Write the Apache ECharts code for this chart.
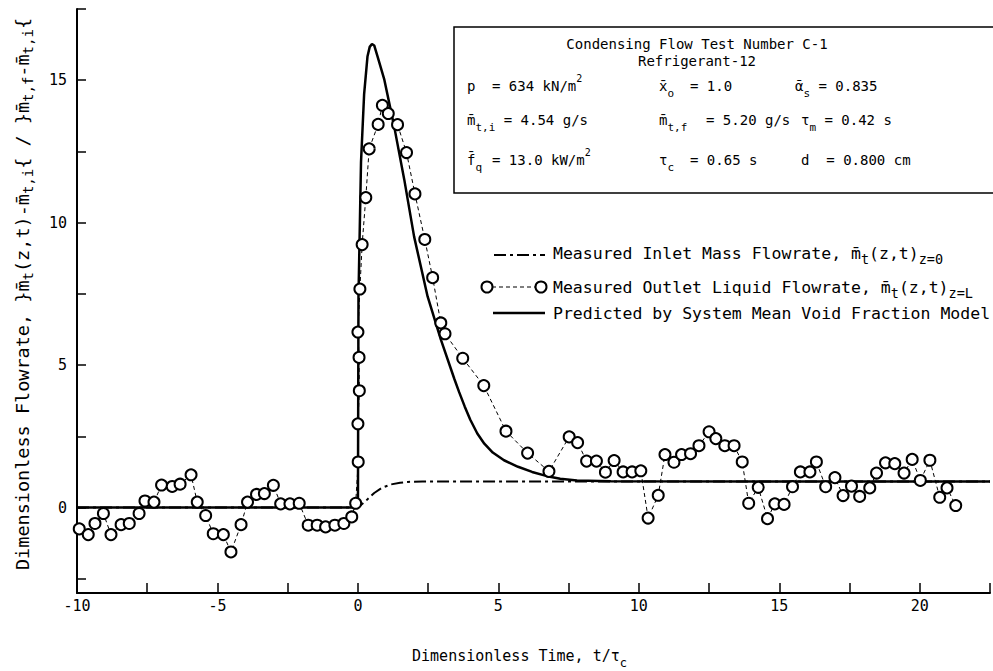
<!DOCTYPE html>
<html><head><meta charset="utf-8">
<script src="https://cdn.jsdelivr.net/npm/echarts@6/dist/echarts.min.js"></script>
<style>html,body{margin:0;padding:0;background:#fff}#c{width:993px;height:671px}</style>
</head><body><div id="c"></div>
<script>
// ---- data ----
const outletT = [-9.92,-9.6,-9.36,-9.06,-8.79,-8.43,-8.14,-7.79,-7.58,-7.26,-6.99,-6.61,-6.33,-5.94,-5.72,-5.42,-5.15,-4.79,-4.52,-4.16,-3.93,-3.61,-3.33,-3.01,-2.75,-2.42,-2.09,-1.77,-1.45,-1.15,-0.82,-0.5,-0.22,-0.08,
  0.01,0.0,0.05,0.04,0.0,0.07,0.15,0.28,0.4,0.72,0.87,1.08,1.41,1.73,2.03,2.38,2.66,2.95,3.1,3.73,4.48,5.27,6.04,6.8,7.52,7.82,8.14,8.49,8.81,9.12,9.44,9.76,10.07,
  10.33,10.69,10.93,11.25,11.52,11.84,12.14,12.5,12.74,13.06,13.39,13.68,13.91,14.25,14.58,14.84,15.17,15.47,15.75,16.09,16.32,16.65,16.98,17.27,17.57,17.86,18.22,18.46,18.78,19.11,19.44,19.73,20.02,20.36,20.71,20.97,21.28];
const outletV = [-0.75,-0.95,-0.56,-0.21,-0.95,-0.6,-0.56,-0.21,0.23,0.19,0.79,0.74,0.82,1.15,0.19,-0.28,-0.92,-0.95,-1.56,-0.6,0.19,0.46,0.49,0.78,0.13,0.13,0.15,-0.62,-0.62,-0.68,-0.62,-0.56,-0.33,0.15,
  1.6,2.94,4.1,5.27,6.16,7.67,9.23,10.88,12.59,13.45,14.12,13.83,13.44,12.46,11.01,9.41,8.07,6.48,6.1,5.24,4.28,2.68,1.91,1.27,2.48,2.28,1.63,1.63,1.24,1.65,1.25,1.25,1.29,
  -0.37,0.43,1.86,1.59,1.86,1.89,2.17,2.66,2.42,2.17,2.17,1.6,0.15,0.71,-0.39,0.13,0.11,0.73,1.25,1.25,1.6,0.73,1.05,0.42,0.75,0.39,0.69,1.21,1.57,1.54,1.21,1.69,0.95,1.66,0.36,0.69,0.07];
const inletT = [-10,0,0.3,0.58,0.85,1.17,1.5,1.77,2.3,22.5];
const inletV = [0,0,0.25,0.51,0.69,0.81,0.87,0.9,0.91,0.91];
const predT = [-10,0,0.02,0.11,0.22,0.34,0.42,0.5,0.58,0.7,0.94,1.29,1.65,2.0,2.48,2.95,3.43,3.6,3.8,4.0,4.25,4.5,4.8,5.2,5.7,6.2,6.7,7.2,7.8,9.0,22.5];
const predV = [0,0,7.4,12.13,14.5,15.83,16.17,16.27,16.22,15.83,15.02,13.38,11.51,9.51,7.41,5.9,4.52,4.06,3.55,3.08,2.6,2.24,1.93,1.66,1.43,1.25,1.11,1.01,0.95,0.92,0.91];
const xTicks = [-10,-7.5,-5,-2.5,0,2.5,5,7.5,10,12.5,15,17.5,20,22.5];
const xLabels = [-10,-5,0,5,10,15,20];
const yTicks = [-2.5,0,2.5,5,7.5,10,12.5,15,17.5];
const yLabels = [0,5,10,15];

const zip = (a, b) => a.map((v, i) => [v, b[i]]);
const F = '"DejaVu Sans Mono","Liberation Mono",monospace';

const chart = echarts.init(document.getElementById('c'), null, {renderer: 'svg'});

function gRich(fs) {
  return {
    s: {fontSize: fs - 3, fontFamily: F, fill: '#000', lineHeight: 12, verticalAlign: 'bottom'},
    p: {fontSize: fs - 4, fontFamily: F, fill: '#000', lineHeight: 12, verticalAlign: 'top'}
  };
}
function txt(x, y, text, fs, align) {
  return {
    type: 'text', x: x, y: y, z: 100,
    style: {
      text: text, fontSize: fs, fontFamily: F, fill: '#000',
      align: align || 'left', textAlign: align || 'left',
      verticalAlign: 'middle', textVerticalAlign: 'middle',
      lineHeight: 26, rich: gRich(fs)
    }
  };
}

const BF = 14, LF = 16.5;
const graphics = [
  {type: 'rect', z: 90, shape: {x: 454, y: 27, width: 600, height: 166}, style: {fill: '#fff', stroke: '#000', lineWidth: 1.5}},
  txt(697, 44, 'Condensing Flow Test Number C-1', BF, 'center'),
  txt(697, 61, 'Refrigerant-12', BF, 'center'),
  txt(467, 86, 'p', BF),
  txt(492, 86, '= 634 kN/m{p|2}', BF),
  txt(659, 86, 'x̄{s|o}', BF),
  txt(690, 86, '= 1.0', BF),
  txt(795, 86, 'ᾱ{s|s} = 0.835', BF),
  txt(467, 120, 'm̄{s|t,i} = 4.54 g/s', BF),
  txt(659, 120, 'm̄{s|t,f}', BF),
  txt(706, 120, '= 5.20 g/s', BF),
  txt(801, 120, 'τ{s|m} = 0.42 s', BF),
  txt(467, 160, 'f̄{s|q}', BF),
  txt(492, 160, '= 13.0 kW/m{p|2}', BF),
  txt(659, 160, 'τ{s|c}', BF),
  txt(690, 160, '= 0.65 s', BF),
  txt(801, 160, 'd  = 0.800 cm', BF),
  // legend
  {type: 'line', z: 100, shape: {x1: 494, y1: 255, x2: 545, y2: 255}, style: {stroke: '#000', lineWidth: 2, lineDash: [12, 4, 3, 4]}},
  {type: 'line', z: 100, shape: {x1: 492, y1: 287, x2: 536, y2: 287}, style: {stroke: '#000', lineWidth: 1.2, lineDash: [4, 3]}},
  {type: 'circle', z: 101, shape: {cx: 487, cy: 287, r: 5.5}, style: {fill: '#fff', stroke: '#000', lineWidth: 2}},
  {type: 'circle', z: 101, shape: {cx: 541, cy: 287, r: 5.5}, style: {fill: '#fff', stroke: '#000', lineWidth: 2}},
  {type: 'line', z: 100, shape: {x1: 493, y1: 313, x2: 545, y2: 313}, style: {stroke: '#000', lineWidth: 2.5}},
  txt(553, 253, 'Measured Inlet Mass Flowrate, m̄{s|t}(z,t){s|z=0}', LF),
  txt(553, 287, 'Measured Outlet Liquid Flowrate, m̄{s|t}(z,t){s|z=L}', LF),
  txt(553, 313, 'Predicted by System Mean Void Fraction Model', LF)
];

const axisRich = {
  s: {fontSize: 12, fontFamily: F, color: '#000', lineHeight: 12, verticalAlign: 'bottom'}
};
const axisRichY = {
  s: {fontSize: 14, fontFamily: F, color: '#000', lineHeight: 12, verticalAlign: 'bottom'}
};

chart.setOption({
  animation: false,
  backgroundColor: '#fff',
  grid: {left: 77, right: 3, top: 9, bottom: 78, outerBoundsMode: 'none'},
  xAxis: {
    type: 'value', min: -10, max: 22.5,
    name: 'Dimensionless Time, t/τ{s|c}', nameLocation: 'middle', nameGap: 50,
    nameTextStyle: {fontFamily: F, fontSize: 15, color: '#000', lineHeight: 26, rich: axisRich, padding: [0, 28, 0, 0]},
    axisLine: {onZero: false, lineStyle: {color: '#000', width: 2}},
    axisTick: {inside: true, length: 10, lineStyle: {color: '#000', width: 1.5}, customValues: xTicks},
    axisLabel: {customValues: xLabels, fontFamily: F, fontSize: 15, color: '#000', margin: 5},
    splitLine: {show: false}
  },
  yAxis: {
    type: 'value', min: -3, max: 17.5,
    name: 'Dimensionless Flowrate, }m̄{s|t}(z,t)-m̄{s|t,i}{ / }m̄{s|t,f}-m̄{s|t,i}{',
    nameLocation: 'middle', nameRotate: 90, nameGap: 42,
    nameTextStyle: {fontFamily: F, fontSize: 18.5, color: '#000', lineHeight: 26, rich: axisRichY, padding: [0, 0, 0, 14]},
    axisLine: {onZero: false, lineStyle: {color: '#000', width: 2}},
    axisTick: {inside: true, length: 9, lineStyle: {color: '#000', width: 1.5}, customValues: yTicks},
    axisLabel: {customValues: yLabels, fontFamily: F, fontSize: 15, color: '#000', margin: 10},
    splitLine: {show: false}
  },
  series: [
    {type: 'line', name: 'Predicted', data: zip(predT, predV), showSymbol: false, symbol: 'none',
     lineStyle: {color: '#000', width: 2.5}, z: 3},
    {type: 'line', name: 'Inlet', data: zip(inletT, inletV), showSymbol: false, symbol: 'none',
     lineStyle: {color: '#000', width: 2, type: [12, 4, 3, 4]}, z: 2},
    {type: 'line', name: 'Outlet', data: zip(outletT, outletV), symbol: 'circle', symbolSize: 11, showAllSymbol: true,
     itemStyle: {color: '#fff', borderColor: '#000', borderWidth: 2},
     lineStyle: {color: '#000', width: 1, type: [4, 3]}, z: 4}
  ],
  graphic: graphics
});
</script>
</body></html>
